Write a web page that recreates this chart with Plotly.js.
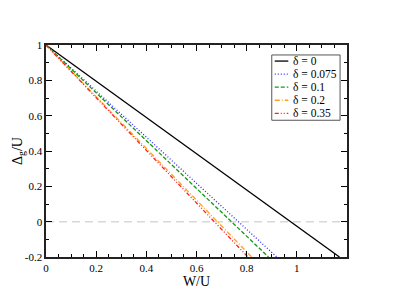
<!DOCTYPE html>
<html>
<head>
<meta charset="utf-8">
<script src="https://cdn.plot.ly/plotly-3.0.1.min.js"></script>
<style>html,body{margin:0;padding:0;background:#fff;}#chart{width:415px;height:294px;}</style>
</head>
<body>
<div id="chart"></div>
<script>
// Data
const seriesNames = ["δ = 0", "δ = 0.075", "δ = 0.1", "δ = 0.2", "δ = 0.35"];
const x_d0    = [0, 0.4, 0.8, 1.17];
const y_d0    = [1, 0.591, 0.182, -0.2];
const x_d075  = [0, 0.4, 0.8, 0.92];
const y_d075  = [1, 0.478, -0.043, -0.2];
const x_d01   = [0, 0.4, 0.8, 0.887];
const y_d01   = [1, 0.459, -0.082, -0.2];
const x_d02   = [0, 0.4, 0.8, 0.82];
const y_d02   = [1, 0.415, -0.171, -0.2];
const x_d035  = [0, 0.4, 0.8, 0.805];
const y_d035  = [1, 0.404, -0.193, -0.2];
const zeroLineX = [0, 1.2];
const zeroLineY = [0, 0];
const xTickVals = [0, 0.2, 0.4, 0.6, 0.8, 1];
const xTickText = ["0", "0.2", "0.4", "0.6", "0.8", "1"];
const yTickVals = [-0.2, 0, 0.2, 0.4, 0.6, 0.8, 1];
const yTickText = ["-0.2", "0", "0.2", "0.4", "0.6", "0.8", "1"];
const xTitle = "W/U";
const yTitle = "Δ<sub>g</sub>/U";

const FONT = "Liberation Serif, Times New Roman, serif";
const colors = ["#000000", "#2a2aff", "#109a10", "#ffa020", "#ff2020"];
const dashes = ["solid", "1px,2px", "4px,2px", "5px,2px,1px,2px", "4px,2px,1px,2px,1px,2px"];
const xs = [x_d0, x_d075, x_d01, x_d02, x_d035];
const ys = [y_d0, y_d075, y_d01, y_d02, y_d035];

const traces = [{
  x: zeroLineX, y: zeroLineY, mode: "lines", showlegend: false,
  line: {color: "#d8d8d8", width: 1.5, dash: "8px,5px"}, hoverinfo: "skip"
}];
for (let i = 0; i < seriesNames.length; i++) {
  traces.push({
    x: xs[i], y: ys[i], mode: "lines", name: seriesNames[i], showlegend: false,
    line: {color: colors[i], width: 1.3, dash: dashes[i]}
  });
}

// Compact legend drawn with shapes + annotations (paper coordinates)
const legX0 = 0.75, legX1 = 0.977, legYTop = 0.953, legYBot = 0.645;
const sampleX0 = 0.76, sampleX1 = 0.805, textX = 0.818;
const shapes = [{
  type: "rect", xref: "paper", yref: "paper",
  x0: legX0, x1: legX1, y0: legYBot, y1: legYTop,
  line: {color: "#555", width: 1}, fillcolor: "#fff", layer: "above"
}];
const annotations = [];
const step = (legYTop - legYBot) / seriesNames.length;
for (let i = 0; i < seriesNames.length; i++) {
  const yc = legYTop - step * (i + 0.5) + 0.002;
  shapes.push({
    type: "line", xref: "paper", yref: "paper",
    x0: sampleX0, x1: sampleX1, y0: yc, y1: yc,
    line: {color: colors[i], width: 1.3, dash: dashes[i]}, layer: "above"
  });
  annotations.push({
    xref: "paper", yref: "paper", x: textX, y: yc, xanchor: "left", yanchor: "middle",
    text: seriesNames[i], showarrow: false, borderpad: 0, valign: "middle",
    font: {family: FONT, size: 11.5, color: "#000"}
  });
}
// y-axis title placed close to the axis like the reference
annotations.push({
  xref: "paper", yref: "paper", x: 0, y: 0.5, xshift: -28, xanchor: "center", yanchor: "middle",
  text: yTitle, textangle: -90, showarrow: false,
  font: {family: FONT, size: 14, color: "#000"}
});

const axisCommon = {
  showline: true, mirror: "ticks", linecolor: "#222", linewidth: 1.6,
  ticks: "inside", ticklen: 6, tickwidth: 1, tickcolor: "#000",
  showgrid: false, zeroline: false,
  tickfont: {family: FONT, size: 11, color: "#000"},
  minor: {ticks: "inside", ticklen: 3, tickwidth: 1, tickcolor: "#000"}
};

const layout = {
  width: 415, height: 294,
  margin: {l: 46, r: 68, t: 45, b: 37},
  paper_bgcolor: "#fff", plot_bgcolor: "#fff",
  showlegend: false,
  shapes: shapes,
  annotations: annotations,
  xaxis: Object.assign({}, axisCommon, {
    range: [0, 1.2], tickmode: "array", tickvals: xTickVals, ticktext: xTickText,
    minor: Object.assign({}, axisCommon.minor, {dtick: 0.05, tick0: 0}),
    title: {text: xTitle, font: {family: FONT, size: 14, color: "#000"}, standoff: 2}
  }),
  yaxis: Object.assign({}, axisCommon, {
    range: [-0.2, 1], tickmode: "array", tickvals: yTickVals, ticktext: yTickText,
    minor: Object.assign({}, axisCommon.minor, {dtick: 0.1, tick0: 0})
  })
};

Plotly.newPlot("chart", traces, layout, {displayModeBar: false, staticPlot: true});
</script>
</body>
</html>
